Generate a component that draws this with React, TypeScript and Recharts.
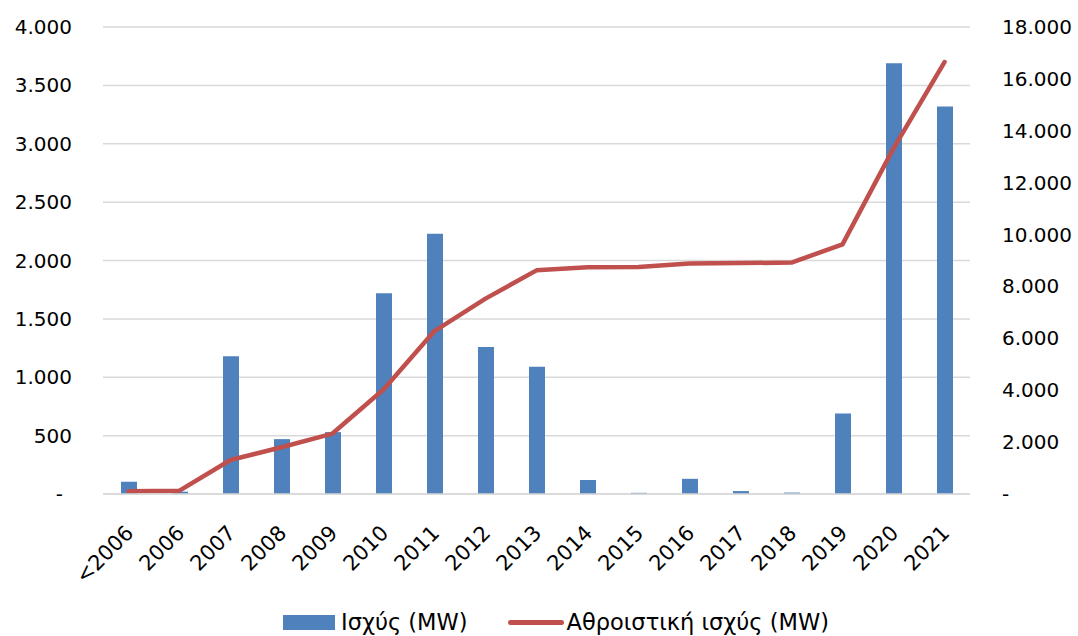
import { Bar, CartesianGrid, ComposedChart, Legend, Line, XAxis, YAxis } from "recharts";

const YEARS = ["<2006", "2006", "2007", "2008", "2009", "2010", "2011", "2012", "2013", "2014", "2015", "2016", "2017", "2018", "2019", "2020", "2021"];
const POWER_MW = [105, 20, 1180, 470, 530, 1720, 2230, 1260, 1090, 120, 10, 130, 25, 12, 690, 3690, 3320];
const CUMULATIVE_MW = [110, 130, 1310, 1800, 2330, 4030, 6280, 7530, 8620, 8740, 8750, 8880, 8900, 8920, 9620, 13320, 16650];
const LEFT_TICKS = [0, 500, 1000, 1500, 2000, 2500, 3000, 3500, 4000];
const RIGHT_TICKS = [0, 2000, 4000, 6000, 8000, 10000, 12000, 14000, 16000, 18000];

const BAR_LABEL = "Ισχύς (MW)";
const LINE_LABEL = "Αθροιστική ισχύς (MW)";

const COLORS = {
  bar: "#4F81BD",
  line: "#C0504D",
  grid: "#D9D9D9",
  text: "#000000",
};

const FONT = "'DejaVu Sans', sans-serif";

const chartData = YEARS.map((year, i) => ({
  year,
  power: POWER_MW[i],
  cumulative: CUMULATIVE_MW[i],
}));

function fmt(v: number): string {
  return String(v).replace(/\B(?=(\d{3})+(?!\d))/g, ".");
}

function LeftTick({ x, y, payload }: any) {
  const v = payload.value as number;
  return (
    <text x={v === 0 ? x - 9 : x} y={y} dy="0.35em" textAnchor="end" fontSize={20} fontFamily={FONT} fill={COLORS.text}>
      {v === 0 ? "-" : fmt(v)}
    </text>
  );
}

function RightTick({ x, y, payload }: any) {
  const v = payload.value as number;
  return (
    <text x={x} y={y} dy="0.35em" textAnchor="start" fontSize={20} fontFamily={FONT} fill={COLORS.text}>
      {v === 0 ? "-" : fmt(v)}
    </text>
  );
}

function YearTick({ x, y, payload }: any) {
  return (
    <g transform={`translate(${x + 1},${y + 27}) rotate(-45)`}>
      <text x={0} y={0} dy="0.35em" textAnchor="end" fontSize={21} fontFamily={FONT} fill={COLORS.text}>
        {payload.value}
      </text>
    </g>
  );
}

function LegendContent() {
  return (
    <div
      style={{
        display: "flex",
        justifyContent: "center",
        alignItems: "center",
        boxSizing: "border-box",
        height: 40,
        paddingTop: 12,
        paddingLeft: 34,
        fontFamily: FONT,
        fontSize: 22.5,
        color: COLORS.text,
      }}
    >
      <span style={{ display: "inline-block", width: 52, height: 15, background: COLORS.bar, marginRight: 6 }} />
      <span style={{ marginRight: 40 }}>{BAR_LABEL}</span>
      <span style={{ display: "inline-block", width: 56, height: 5, background: COLORS.line, borderRadius: 2.5, marginRight: 3 }} />
      <span>{LINE_LABEL}</span>
    </div>
  );
}

export default function App() {
  return (
    <div style={{ position: "absolute", left: 0, top: 0, background: "#fff" }}>
      <ComposedChart
        width={1078}
        height={636}
        data={chartData}
        margin={{ top: 27, right: 0, bottom: 0, left: 0 }}
        barCategoryGap={0}
      >
        <CartesianGrid yAxisId="left" vertical={false} stroke={COLORS.grid} strokeWidth={1.5} />
        <XAxis
          dataKey="year"
          interval={0}
          height={102}
          tickLine={false}
          axisLine={{ stroke: COLORS.grid, strokeWidth: 1.5 }}
          tick={<YearTick />}
        />
        <YAxis
          yAxisId="left"
          orientation="left"
          width={103}
          domain={[0, 4000]}
          ticks={LEFT_TICKS}
          axisLine={false}
          tickLine={false}
          tickSize={0}
          tickMargin={31}
          tick={<LeftTick />}
        />
        <YAxis
          yAxisId="right"
          orientation="right"
          width={108}
          domain={[0, 18000]}
          ticks={RIGHT_TICKS}
          axisLine={false}
          tickLine={false}
          tickSize={0}
          tickMargin={32}
          tick={<RightTick />}
        />
        <Legend verticalAlign="bottom" height={40} content={<LegendContent />} />
        <Bar yAxisId="left" dataKey="power" name={BAR_LABEL} fill={COLORS.bar} barSize={16} isAnimationActive={false} />
        <Line
          yAxisId="right"
          type="linear"
          dataKey="cumulative"
          name={LINE_LABEL}
          stroke={COLORS.line}
          strokeWidth={4.5}
          strokeLinecap="round"
          strokeLinejoin="round"
          dot={false}
          activeDot={false}
          isAnimationActive={false}
        />
      </ComposedChart>
    </div>
  );
}
